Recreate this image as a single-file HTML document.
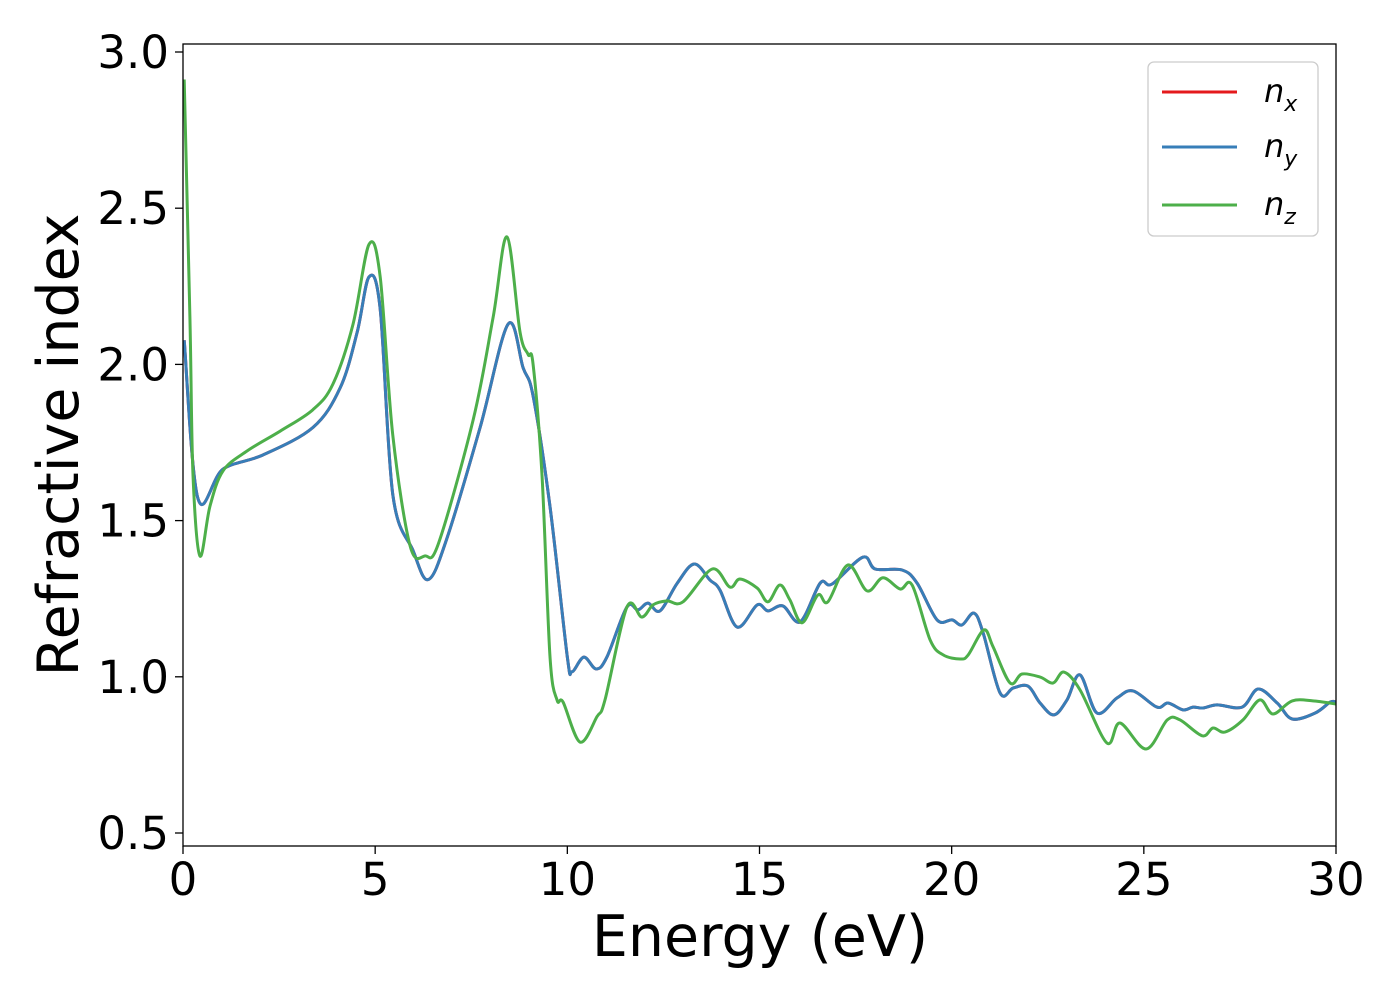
<!DOCTYPE html>
<html><head><meta charset="utf-8"><style>
html,body{margin:0;padding:0;background:#fff;}
svg{display:block;font-family:"DejaVu Sans","Liberation Sans",sans-serif;}
</style></head><body>
<svg id="chart" width="1400" height="1000" viewBox="0 0 1400 1000">
<g id="grid"></g>
<g id="series"></g>
<rect x="183" y="44" width="1153" height="802" fill="none" stroke="#000" stroke-width="1.3"/>
<text x="760" y="956" font-size="57" text-anchor="middle">Energy (eV)</text>
<text transform="translate(78,445) rotate(-90)" font-size="57" text-anchor="middle">Refractive index</text>
<g>
<rect x="1148" y="62" width="170" height="174" rx="6" fill="#fff" stroke="#ccc" stroke-width="1.3"/>
<g><line x1="1162" y1="92" x2="1237" y2="92" stroke="#e41a1c" stroke-width="3"/><text x="1264" y="102" font-size="32" font-style="italic">n<tspan font-size="22" dy="9">x</tspan></text></g>
<g><line x1="1162" y1="147" x2="1237" y2="147" stroke="#377eb8" stroke-width="3"/><text x="1264" y="157" font-size="32" font-style="italic">n<tspan font-size="22" dy="9">y</tspan></text></g>
<g><line x1="1162" y1="205" x2="1237" y2="205" stroke="#4daf4a" stroke-width="3"/><text x="1264" y="215" font-size="32" font-style="italic">n<tspan font-size="22" dy="9">z</tspan></text></g>
</g>
</svg>
<script>
const xTicks=[0,5,10,15,20,25,30];
const yTicks=[0.5,1.0,1.5,2.0,2.5,3.0];
const yTickLabels=["0.5","1.0","1.5","2.0","2.5","3.0"];
const energyXY=[0.03,0.39,1.04,2.08,3.38,4.09,4.53,4.84,5.13,5.46,5.98,6.38,6.87,7.73,8.46,8.85,9.11,9.55,10.0,10.12,10.43,10.75,11.03,11.55,11.84,12.10,12.41,12.86,13.30,13.71,13.97,14.42,14.94,15.22,15.61,16.06,16.58,16.89,17.69,18.01,18.71,19.10,19.62,20.01,20.27,20.58,20.82,21.26,21.60,21.99,22.30,22.66,23.00,23.34,23.78,24.30,24.72,25.34,25.63,26.02,26.28,26.54,26.91,27.56,27.97,28.47,28.86,29.46,29.85,30.0];
const nX=[2.077,1.57,1.665,1.71,1.798,1.925,2.102,2.28,2.177,1.583,1.406,1.311,1.444,1.798,2.129,1.989,1.899,1.545,1.064,1.016,1.063,1.025,1.063,1.223,1.214,1.236,1.211,1.300,1.361,1.310,1.278,1.159,1.230,1.211,1.227,1.176,1.300,1.297,1.383,1.345,1.342,1.300,1.182,1.182,1.166,1.204,1.140,0.948,0.964,0.970,0.916,0.878,0.926,1.006,0.884,0.932,0.955,0.903,0.916,0.894,0.903,0.900,0.910,0.903,0.961,0.916,0.865,0.884,0.919,0.919];
const nY=nX.slice();
const energyZ=[0.03,0.18,0.26,0.44,0.70,1.04,1.67,2.52,3.38,3.90,4.42,4.84,5.13,5.46,5.91,6.30,6.65,7.55,8.07,8.43,8.77,8.98,9.11,9.34,9.55,9.73,9.89,10.33,10.77,10.98,11.55,11.94,12.23,12.59,13.01,13.77,14.23,14.49,14.94,15.22,15.53,15.79,16.11,16.52,16.78,17.30,17.80,18.21,18.66,18.97,19.44,19.78,20.22,20.43,20.84,21.08,21.52,21.83,22.30,22.64,22.92,23.34,24.04,24.38,25.06,25.61,25.94,26.52,26.80,27.11,27.58,28.02,28.36,28.86,29.40,30.0];
const nZ=[2.912,2.152,1.646,1.387,1.545,1.659,1.723,1.786,1.855,1.937,2.127,2.384,2.280,1.773,1.419,1.387,1.428,1.823,2.152,2.408,2.102,2.032,2.000,1.646,1.064,0.926,0.919,0.791,0.872,0.926,1.223,1.191,1.230,1.243,1.240,1.345,1.287,1.313,1.284,1.240,1.294,1.246,1.173,1.262,1.240,1.358,1.275,1.317,1.281,1.294,1.118,1.070,1.057,1.070,1.150,1.095,0.980,1.009,0.999,0.980,1.015,0.958,0.788,0.852,0.769,0.862,0.862,0.811,0.836,0.823,0.862,0.926,0.881,0.923,0.923,0.913];

const NS="http://www.w3.org/2000/svg";
function xScale(e){return 183+(e-0)*(1336-183)/30;}
function yScale(n){return 833-(n-0.5)*312.4;}
const axes=document.getElementById('grid');
xTicks.forEach(t=>{
  const l=document.createElementNS(NS,'line');
  
  
  l.setAttribute('x1',xScale(t));l.setAttribute('x2',xScale(t));
  l.setAttribute('y1',846);l.setAttribute('y2',854);
  l.setAttribute('stroke','#000');l.setAttribute('stroke-width','1.3');
  axes.appendChild(l);
  const tx=document.createElementNS(NS,'text');
  
  
  tx.setAttribute('x',xScale(t));tx.setAttribute('y',895);
  tx.setAttribute('font-size','45');tx.setAttribute('text-anchor','middle');
  tx.textContent=String(t);
  axes.appendChild(tx);
});
yTicks.forEach((t,i)=>{
  const l=document.createElementNS(NS,'line');
  
  
  l.setAttribute('x1',175);l.setAttribute('x2',183);
  l.setAttribute('y1',yScale(t));l.setAttribute('y2',yScale(t));
  l.setAttribute('stroke','#000');l.setAttribute('stroke-width','1.3');
  axes.appendChild(l);
  const tx=document.createElementNS(NS,'text');
  
  
  tx.setAttribute('x',169);tx.setAttribute('y',yScale(t)+16);
  tx.setAttribute('font-size','45');tx.setAttribute('text-anchor','end');
  tx.textContent=yTickLabels[i];
  axes.appendChild(tx);
});
function smoothPath(xs,ys){
  const p=xs.map((x,i)=>[xScale(x),yScale(ys[i])]);
  let d='M'+p[0][0].toFixed(1)+','+p[0][1].toFixed(1);
  for(let i=0;i<p.length-1;i++){
    const p0=p[i-1]||p[i],p1=p[i],p2=p[i+1],p3=p[i+2]||p[i+1];
    const c1=[p1[0]+(p2[0]-p0[0])/6,p1[1]+(p2[1]-p0[1])/6];
    const c2=[p2[0]-(p3[0]-p1[0])/6,p2[1]-(p3[1]-p1[1])/6];
    d+=' C'+c1[0].toFixed(1)+','+c1[1].toFixed(1)+' '+c2[0].toFixed(1)+','+c2[1].toFixed(1)+' '+p2[0].toFixed(1)+','+p2[1].toFixed(1);
  }
  return d;
}
const sg=document.getElementById('series');
function addLine(xs,ys,color,name){
  const path=document.createElementNS(NS,'path');
  
  
  path.setAttribute('d',smoothPath(xs,ys));
  path.setAttribute('fill','none');path.setAttribute('stroke',color);
  path.setAttribute('stroke-width','3');path.setAttribute('stroke-linejoin','round');
  sg.appendChild(path);
}
addLine(energyXY,nX,'#e41a1c','line-nx');
addLine(energyXY,nY,'#377eb8','line-ny');
addLine(energyZ,nZ,'#4daf4a','line-nz');
</script>
</body></html>
